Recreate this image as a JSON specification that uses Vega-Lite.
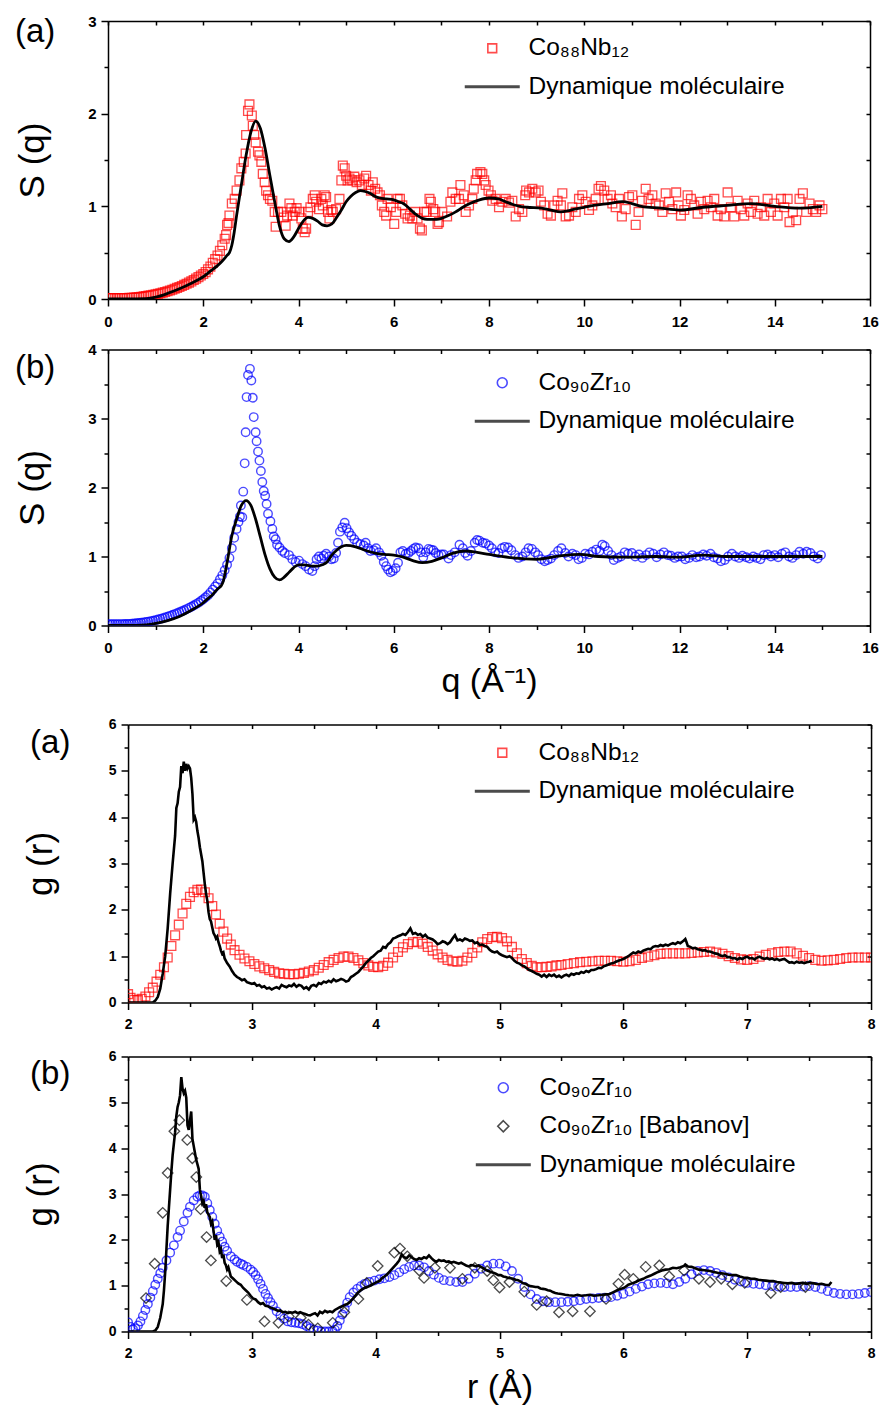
{
  "$schema": "https://vega.github.io/schema/vega-lite/v6.json",
  "background": "white",
  "padding": {"left": 15, "top": 14, "right": -13, "bottom": 0},
  "config": {
    "view": {"stroke": null},
    "font": "Liberation Sans",
    "axis": {
      "labelFont": "Liberation Sans", "labelFontSize": 15, "labelFontWeight": "bold", "labelColor": "black",
      "titleFont": "Liberation Sans", "titleFontSize": 35, "titleFontWeight": "normal", "titleColor": "black",
      "domainColor": "black", "domainWidth": 1.5, "tickColor": "black", "tickWidth": 1.5,
      "grid": false, "labelFlush": false, "labelOverlap": false, "zindex": 1
    },
    "legend": {
      "orient": "none", "labelFont": "Liberation Sans", "labelFontSize": 24.5, "labelColor": "black",
      "symbolSize": 484, "symbolStrokeWidth": 1.6, "labelOffset": 24, "rowPadding": 13.5, "padding": 0, "labelLimit": 0
    },
    "title": {"font": "Liberation Sans", "fontSize": 33, "fontWeight": "normal", "color": "black", "anchor": "start", "frame": "group", "baseline": "top"}
  },
  "datasets": {
    "s1": [
      {"x":0,"y":0.01},{"x":0.05,"y":0.01},{"x":0.1,"y":0.01},{"x":0.15,"y":0.01},{"x":0.2,"y":0.01},{"x":0.25,"y":0.01},{"x":0.3,"y":0.01},{"x":0.35,"y":0.01},{"x":0.4,"y":0.01},{"x":0.45,"y":0.012},
      {"x":0.5,"y":0.014},{"x":0.55,"y":0.016},{"x":0.6,"y":0.018},{"x":0.65,"y":0.02},{"x":0.7,"y":0.024},{"x":0.75,"y":0.028},{"x":0.8,"y":0.032},{"x":0.85,"y":0.036},{"x":0.9,"y":0.04},{"x":0.95,"y":0.045},
      {"x":1.0,"y":0.05},{"x":1.05,"y":0.056},{"x":1.1,"y":0.062},{"x":1.15,"y":0.069},{"x":1.2,"y":0.076},{"x":1.25,"y":0.084},{"x":1.3,"y":0.092},{"x":1.35,"y":0.1},{"x":1.4,"y":0.11},{"x":1.45,"y":0.12},
      {"x":1.5,"y":0.13},{"x":1.55,"y":0.14},{"x":1.6,"y":0.152},{"x":1.65,"y":0.164},{"x":1.7,"y":0.177},{"x":1.75,"y":0.19},{"x":1.8,"y":0.205},{"x":1.85,"y":0.22},{"x":1.9,"y":0.236},{"x":1.95,"y":0.253},
      {"x":2.0,"y":0.27},{"x":2.05,"y":0.29},{"x":2.1,"y":0.32},{"x":2.15,"y":0.35},{"x":2.2,"y":0.39},{"x":2.25,"y":0.43},{"x":2.3,"y":0.47},{"x":2.35,"y":0.52},{"x":2.4,"y":0.58},{"x":2.45,"y":0.65},
      {"x":2.48,"y":0.69},{"x":2.5,"y":0.8},{"x":2.53,"y":0.82},{"x":2.55,"y":0.9},{"x":2.6,"y":1.03},{"x":2.66,"y":1.08},{"x":2.7,"y":1.17},{"x":2.76,"y":1.28},{"x":2.8,"y":1.41},{"x":2.85,"y":1.48},
      {"x":2.89,"y":1.57},{"x":2.9,"y":1.77},{"x":2.94,"y":2.03},{"x":2.97,"y":2.1},{"x":3.02,"y":1.98},{"x":3.04,"y":1.87},{"x":3.07,"y":1.77},{"x":3.1,"y":1.69},{"x":3.15,"y":1.59},{"x":3.18,"y":1.55},
      {"x":3.22,"y":1.48},{"x":3.25,"y":1.35},{"x":3.29,"y":1.26},{"x":3.32,"y":1.17},{"x":3.36,"y":1.12},{"x":3.4,"y":1.08},{"x":3.45,"y":1.06},{"x":3.5,"y":0.94},{"x":3.52,"y":0.78},{"x":3.57,"y":0.94},
      {"x":3.64,"y":0.94},{"x":3.69,"y":0.88},{"x":3.73,"y":0.79},{"x":3.76,"y":0.9},{"x":3.81,"y":1.03},{"x":3.85,"y":0.98},{"x":3.88,"y":0.9},{"x":3.92,"y":0.94},{"x":3.96,"y":0.98},{"x":4.02,"y":0.94},
      {"x":4.06,"y":0.87},{"x":4.09,"y":0.76},{"x":4.13,"y":0.72},{"x":4.16,"y":0.76},{"x":4.2,"y":0.94},{"x":4.25,"y":0.99},{"x":4.3,"y":1.08},{"x":4.34,"y":1.12},{"x":4.37,"y":1.05},{"x":4.43,"y":0.97},
      {"x":4.48,"y":1.08},{"x":4.51,"y":1.01},{"x":4.55,"y":1.12},{"x":4.58,"y":1.1},{"x":4.62,"y":0.94},{"x":4.65,"y":0.87},{"x":4.69,"y":0.96},{"x":4.72,"y":0.94},{"x":4.79,"y":0.97},{"x":4.86,"y":1.08},
      {"x":4.9,"y":1.28},{"x":4.93,"y":1.44},{"x":4.97,"y":1.41},{"x":5.0,"y":1.33},{"x":5.03,"y":1.28},{"x":5.07,"y":1.3},{"x":5.13,"y":1.28},{"x":5.17,"y":1.32},{"x":5.22,"y":1.26},{"x":5.28,"y":1.28},
      {"x":5.33,"y":1.23},{"x":5.38,"y":1.3},{"x":5.42,"y":1.33},{"x":5.47,"y":1.23},{"x":5.52,"y":1.17},{"x":5.56,"y":1.26},{"x":5.61,"y":1.19},{"x":5.66,"y":1.15},{"x":5.71,"y":1.12},{"x":5.75,"y":1.01},
      {"x":5.8,"y":0.94},{"x":5.84,"y":0.9},{"x":5.87,"y":1.08},{"x":5.94,"y":0.99},{"x":6.01,"y":0.81},{"x":6.05,"y":0.94},{"x":6.08,"y":1.08},{"x":6.13,"y":1.08},{"x":6.18,"y":1.01},{"x":6.24,"y":0.92},
      {"x":6.29,"y":0.87},{"x":6.34,"y":0.9},{"x":6.39,"y":0.87},{"x":6.45,"y":0.94},{"x":6.5,"y":0.87},{"x":6.55,"y":0.76},{"x":6.59,"y":0.74},{"x":6.64,"y":0.94},{"x":6.69,"y":0.94},{"x":6.75,"y":1.08},
      {"x":6.78,"y":1.05},{"x":6.83,"y":0.97},{"x":6.87,"y":0.94},{"x":6.92,"y":0.81},{"x":6.95,"y":0.83},{"x":7.02,"y":0.94},{"x":7.12,"y":0.89},{"x":7.19,"y":1.05},{"x":7.23,"y":1.15},{"x":7.3,"y":1.08},
      {"x":7.37,"y":1.08},{"x":7.4,"y":1.23},{"x":7.47,"y":1.12},{"x":7.51,"y":0.94},{"x":7.58,"y":1.01},{"x":7.65,"y":1.08},{"x":7.68,"y":1.19},{"x":7.72,"y":1.28},{"x":7.75,"y":1.35},{"x":7.82,"y":1.37},
      {"x":7.86,"y":1.35},{"x":7.9,"y":1.28},{"x":7.93,"y":1.23},{"x":7.99,"y":1.17},{"x":8.04,"y":1.12},{"x":8.07,"y":1.06},{"x":8.14,"y":1.08},{"x":8.21,"y":0.99},{"x":8.28,"y":1.05},{"x":8.35,"y":1.08},
      {"x":8.42,"y":1.04},{"x":8.49,"y":1.06},{"x":8.56,"y":0.89},{"x":8.63,"y":0.97},{"x":8.7,"y":0.94},{"x":8.76,"y":1.12},{"x":8.78,"y":1.17},{"x":8.84,"y":1.15},{"x":8.91,"y":1.19},{"x":8.98,"y":1.15},
      {"x":9.04,"y":1.17},{"x":9.09,"y":1.05},{"x":9.16,"y":1.01},{"x":9.23,"y":0.92},{"x":9.3,"y":0.9},{"x":9.37,"y":1.01},{"x":9.44,"y":1.06},{"x":9.51,"y":1.01},{"x":9.54,"y":1.14},{"x":9.61,"y":0.89},
      {"x":9.68,"y":0.9},{"x":9.75,"y":0.99},{"x":9.82,"y":0.94},{"x":9.89,"y":1.08},{"x":9.96,"y":1.12},{"x":10.03,"y":1.05},{"x":10.1,"y":0.96},{"x":10.17,"y":1.01},{"x":10.24,"y":1.08},{"x":10.3,"y":1.19},
      {"x":10.35,"y":1.22},{"x":10.42,"y":1.17},{"x":10.49,"y":1.08},{"x":10.56,"y":1.12},{"x":10.59,"y":1.03},{"x":10.66,"y":0.99},{"x":10.73,"y":1.08},{"x":10.79,"y":0.89},{"x":10.87,"y":0.97},{"x":10.94,"y":1.1},
      {"x":11.01,"y":1.12},{"x":11.08,"y":0.8},{"x":11.14,"y":0.94},{"x":11.21,"y":1.06},{"x":11.29,"y":1.19},{"x":11.35,"y":1.08},{"x":11.43,"y":1.12},{"x":11.5,"y":1.03},{"x":11.57,"y":1.01},{"x":11.64,"y":0.94},
      {"x":11.71,"y":1.14},{"x":11.78,"y":1.05},{"x":11.85,"y":0.97},{"x":11.93,"y":1.15},{"x":11.98,"y":1.01},{"x":12.03,"y":0.9},{"x":12.1,"y":0.96},{"x":12.17,"y":1.12},{"x":12.24,"y":1.08},{"x":12.31,"y":1.01},
      {"x":12.38,"y":0.92},{"x":12.45,"y":1.05},{"x":12.52,"y":0.97},{"x":12.59,"y":1.06},{"x":12.66,"y":0.99},{"x":12.73,"y":1.08},{"x":12.8,"y":0.9},{"x":12.87,"y":0.97},{"x":12.94,"y":0.89},{"x":13.01,"y":1.15},
      {"x":13.08,"y":0.99},{"x":13.15,"y":0.89},{"x":13.22,"y":1.06},{"x":13.29,"y":0.97},{"x":13.36,"y":0.9},{"x":13.43,"y":1.03},{"x":13.5,"y":0.94},{"x":13.57,"y":1.06},{"x":13.64,"y":0.92},{"x":13.71,"y":0.99},
      {"x":13.78,"y":0.9},{"x":13.85,"y":1.08},{"x":13.92,"y":0.94},{"x":13.99,"y":1.03},{"x":14.06,"y":0.9},{"x":14.13,"y":1.08},{"x":14.2,"y":0.99},{"x":14.27,"y":1.08},{"x":14.31,"y":0.83},{"x":14.38,"y":0.94},
      {"x":14.45,"y":0.85},{"x":14.52,"y":1.08},{"x":14.59,"y":1.14},{"x":14.66,"y":0.94},{"x":14.73,"y":1.03},{"x":14.8,"y":0.97},{"x":14.87,"y":0.94},{"x":14.94,"y":1.01},{"x":15.0,"y":0.97}
    ],
    "m1": [
      {"x":0,"y":0},{"x":0.4,"y":0},{"x":0.8,"y":0.005},{"x":1.0,"y":0.02},{"x":1.25,"y":0.06},{"x":1.5,"y":0.11},{"x":1.75,"y":0.17},{"x":2.0,"y":0.24},{"x":2.15,"y":0.3},{"x":2.3,"y":0.36},
      {"x":2.4,"y":0.41},{"x":2.5,"y":0.47},{"x":2.55,"y":0.5},{"x":2.6,"y":0.58},{"x":2.65,"y":0.72},{"x":2.7,"y":0.9},{"x":2.8,"y":1.23},{"x":2.9,"y":1.55},{"x":3.0,"y":1.8},{"x":3.1,"y":1.92},
      {"x":3.2,"y":1.84},{"x":3.3,"y":1.62},{"x":3.4,"y":1.33},{"x":3.5,"y":1.05},{"x":3.6,"y":0.79},{"x":3.7,"y":0.65},{"x":3.8,"y":0.62},{"x":3.9,"y":0.67},{"x":4.0,"y":0.76},{"x":4.1,"y":0.84},
      {"x":4.2,"y":0.88},{"x":4.3,"y":0.87},{"x":4.4,"y":0.84},{"x":4.5,"y":0.8},{"x":4.6,"y":0.79},{"x":4.7,"y":0.81},{"x":4.8,"y":0.88},{"x":4.9,"y":0.96},{"x":5.0,"y":1.05},{"x":5.1,"y":1.11},
      {"x":5.2,"y":1.15},{"x":5.3,"y":1.17},{"x":5.4,"y":1.16},{"x":5.5,"y":1.14},{"x":5.6,"y":1.11},{"x":5.7,"y":1.09},{"x":5.85,"y":1.08},{"x":6.0,"y":1.07},{"x":6.1,"y":1.05},{"x":6.2,"y":1.03},
      {"x":6.3,"y":0.99},{"x":6.4,"y":0.94},{"x":6.5,"y":0.9},{"x":6.6,"y":0.87},{"x":6.7,"y":0.86},{"x":6.8,"y":0.86},{"x":6.9,"y":0.86},{"x":7.0,"y":0.87},{"x":7.15,"y":0.9},{"x":7.3,"y":0.94},
      {"x":7.45,"y":0.99},{"x":7.6,"y":1.03},{"x":7.8,"y":1.07},{"x":8.0,"y":1.09},{"x":8.2,"y":1.08},{"x":8.35,"y":1.05},{"x":8.5,"y":1.02},{"x":8.65,"y":1.0},{"x":8.8,"y":0.99},{"x":9.1,"y":0.98},
      {"x":9.3,"y":0.96},{"x":9.5,"y":0.94},{"x":9.65,"y":0.95},{"x":9.8,"y":0.97},{"x":10.0,"y":0.99},{"x":10.2,"y":1.01},{"x":10.5,"y":1.03},{"x":10.8,"y":1.05},{"x":11.0,"y":1.03},{"x":11.2,"y":1.0},
      {"x":11.6,"y":0.98},{"x":12.0,"y":0.96},{"x":12.5,"y":0.99},{"x":13.0,"y":1.01},{"x":13.5,"y":1.03},{"x":14.0,"y":1.0},{"x":14.5,"y":0.98},{"x":15.0,"y":1.0}
    ],
    "s2": [
      {"x":0,"y":0.02},{"x":0.05,"y":0.02},{"x":0.1,"y":0.02},{"x":0.15,"y":0.02},{"x":0.2,"y":0.02},{"x":0.25,"y":0.02},{"x":0.3,"y":0.02},{"x":0.35,"y":0.021},{"x":0.4,"y":0.022},{"x":0.45,"y":0.024},
      {"x":0.5,"y":0.026},{"x":0.55,"y":0.029},{"x":0.6,"y":0.032},{"x":0.65,"y":0.036},{"x":0.7,"y":0.04},{"x":0.75,"y":0.045},{"x":0.8,"y":0.05},{"x":0.85,"y":0.056},{"x":0.9,"y":0.063},{"x":0.95,"y":0.07},
      {"x":1.0,"y":0.078},{"x":1.05,"y":0.087},{"x":1.1,"y":0.096},{"x":1.15,"y":0.106},{"x":1.2,"y":0.117},{"x":1.25,"y":0.128},{"x":1.3,"y":0.14},{"x":1.35,"y":0.152},{"x":1.4,"y":0.165},{"x":1.45,"y":0.178},
      {"x":1.5,"y":0.192},{"x":1.55,"y":0.207},{"x":1.6,"y":0.222},{"x":1.65,"y":0.238},{"x":1.7,"y":0.255},{"x":1.75,"y":0.272},{"x":1.8,"y":0.29},{"x":1.85,"y":0.31},{"x":1.9,"y":0.33},{"x":1.95,"y":0.355},
      {"x":2.0,"y":0.38},{"x":2.05,"y":0.41},{"x":2.1,"y":0.44},{"x":2.15,"y":0.48},{"x":2.2,"y":0.52},{"x":2.25,"y":0.565},{"x":2.3,"y":0.61},{"x":2.35,"y":0.67},{"x":2.4,"y":0.73},{"x":2.45,"y":0.8},
      {"x":2.5,"y":0.88},{"x":2.55,"y":0.98},{"x":2.6,"y":1.12},{"x":2.65,"y":1.27},{"x":2.7,"y":1.4},{"x":2.74,"y":1.5},{"x":2.77,"y":1.58},{"x":2.79,"y":1.74},{"x":2.82,"y":1.57},{"x":2.84,"y":1.94},
      {"x":2.87,"y":2.35},{"x":2.89,"y":2.8},{"x":2.91,"y":3.31},{"x":2.94,"y":3.63},{"x":2.98,"y":3.72},{"x":3.01,"y":3.55},{"x":3.04,"y":3.3},{"x":3.06,"y":3.02},{"x":3.1,"y":2.8},{"x":3.12,"y":2.67},
      {"x":3.15,"y":2.52},{"x":3.18,"y":2.39},{"x":3.21,"y":2.24},{"x":3.24,"y":2.08},{"x":3.27,"y":1.95},{"x":3.3,"y":1.88},{"x":3.33,"y":1.76},{"x":3.36,"y":1.62},{"x":3.41,"y":1.51},{"x":3.45,"y":1.4},
      {"x":3.48,"y":1.29},{"x":3.52,"y":1.25},{"x":3.55,"y":1.17},{"x":3.6,"y":1.13},{"x":3.66,"y":1.08},{"x":3.71,"y":1.05},{"x":3.8,"y":1.02},{"x":3.87,"y":0.96},{"x":3.94,"y":0.92},{"x":4.01,"y":0.94},
      {"x":4.08,"y":0.89},{"x":4.15,"y":0.86},{"x":4.22,"y":0.81},{"x":4.29,"y":0.79},{"x":4.34,"y":0.86},{"x":4.38,"y":0.96},{"x":4.43,"y":1.0},{"x":4.48,"y":0.97},{"x":4.53,"y":1.01},{"x":4.58,"y":1.04},
      {"x":4.64,"y":1.0},{"x":4.69,"y":0.96},{"x":4.74,"y":0.97},{"x":4.79,"y":1.05},{"x":4.83,"y":1.2},{"x":4.87,"y":1.36},{"x":4.92,"y":1.42},{"x":4.97,"y":1.49},{"x":5.01,"y":1.41},{"x":5.06,"y":1.35},
      {"x":5.11,"y":1.3},{"x":5.17,"y":1.25},{"x":5.23,"y":1.2},{"x":5.3,"y":1.18},{"x":5.37,"y":1.16},{"x":5.41,"y":1.2},{"x":5.46,"y":1.12},{"x":5.51,"y":1.08},{"x":5.58,"y":1.09},{"x":5.63,"y":1.12},
      {"x":5.69,"y":1.06},{"x":5.74,"y":1.01},{"x":5.79,"y":0.92},{"x":5.84,"y":0.86},{"x":5.88,"y":0.81},{"x":5.93,"y":0.77},{"x":5.98,"y":0.79},{"x":6.04,"y":0.83},{"x":6.09,"y":0.91},{"x":6.14,"y":1.06},
      {"x":6.19,"y":1.08},{"x":6.25,"y":1.04},{"x":6.31,"y":1.05},{"x":6.36,"y":1.08},{"x":6.41,"y":1.11},{"x":6.46,"y":1.13},{"x":6.52,"y":1.12},{"x":6.57,"y":1.06},{"x":6.62,"y":0.99},{"x":6.67,"y":1.06},
      {"x":6.73,"y":1.11},{"x":6.78,"y":1.1},{"x":6.83,"y":1.09},{"x":6.88,"y":1.05},{"x":6.94,"y":1.02},{"x":7.0,"y":1.03},{"x":7.05,"y":1.03},{"x":7.15,"y":0.97},{"x":7.2,"y":1.02},{"x":7.28,"y":1.06},
      {"x":7.38,"y":1.17},{"x":7.45,"y":1.12},{"x":7.5,"y":1.05},{"x":7.55,"y":1.01},{"x":7.62,"y":1.08},{"x":7.7,"y":1.2},{"x":7.75,"y":1.24},{"x":7.8,"y":1.23},{"x":7.87,"y":1.2},{"x":7.93,"y":1.19},
      {"x":8.0,"y":1.16},{"x":8.06,"y":1.12},{"x":8.13,"y":1.06},{"x":8.2,"y":1.05},{"x":8.27,"y":1.12},{"x":8.33,"y":1.14},{"x":8.4,"y":1.13},{"x":8.47,"y":1.09},{"x":8.55,"y":1.02},{"x":8.62,"y":0.98},
      {"x":8.7,"y":1.0},{"x":8.77,"y":1.06},{"x":8.83,"y":1.12},{"x":8.9,"y":1.11},{"x":8.97,"y":1.06},{"x":9.03,"y":1.02},{"x":9.1,"y":0.96},{"x":9.17,"y":0.93},{"x":9.23,"y":0.95},{"x":9.3,"y":0.97},
      {"x":9.37,"y":1.02},{"x":9.45,"y":1.08},{"x":9.52,"y":1.12},{"x":9.6,"y":1.05},{"x":9.67,"y":1.0},{"x":9.75,"y":1.04},{"x":9.82,"y":1.02},{"x":9.88,"y":0.96},{"x":9.95,"y":0.98},{"x":10.02,"y":1.04},
      {"x":10.1,"y":1.03},{"x":10.17,"y":1.07},{"x":10.25,"y":1.1},{"x":10.32,"y":1.08},{"x":10.38,"y":1.17},{"x":10.43,"y":1.15},{"x":10.5,"y":1.08},{"x":10.57,"y":1.02},{"x":10.62,"y":0.95},{"x":10.7,"y":0.98},
      {"x":10.77,"y":1.0},{"x":10.85,"y":1.06},{"x":10.92,"y":1.04},{"x":11.0,"y":1.05},{"x":11.07,"y":1.0},{"x":11.15,"y":1.03},{"x":11.22,"y":0.98},{"x":11.3,"y":1.02},{"x":11.37,"y":1.06},{"x":11.45,"y":1.04},
      {"x":11.52,"y":0.99},{"x":11.6,"y":1.03},{"x":11.67,"y":1.06},{"x":11.75,"y":1.02},{"x":11.82,"y":1.01},{"x":11.9,"y":0.98},{"x":11.97,"y":1.0},{"x":12.05,"y":1.0},{"x":12.12,"y":0.96},{"x":12.2,"y":0.98},
      {"x":12.27,"y":1.02},{"x":12.35,"y":0.99},{"x":12.42,"y":1.0},{"x":12.5,"y":1.03},{"x":12.57,"y":1.01},{"x":12.65,"y":1.04},{"x":12.72,"y":0.99},{"x":12.8,"y":0.97},{"x":12.87,"y":0.93},{"x":12.95,"y":0.95},
      {"x":13.02,"y":1.0},{"x":13.1,"y":1.04},{"x":13.17,"y":1.0},{"x":13.25,"y":0.98},{"x":13.32,"y":1.01},{"x":13.4,"y":0.99},{"x":13.47,"y":0.97},{"x":13.55,"y":1.0},{"x":13.62,"y":0.98},{"x":13.7,"y":0.96},
      {"x":13.77,"y":1.02},{"x":13.85,"y":1.03},{"x":13.92,"y":1.0},{"x":14.0,"y":1.02},{"x":14.07,"y":0.99},{"x":14.15,"y":1.04},{"x":14.22,"y":1.06},{"x":14.3,"y":1.0},{"x":14.37,"y":0.98},{"x":14.45,"y":1.02},
      {"x":14.52,"y":1.07},{"x":14.6,"y":1.04},{"x":14.67,"y":1.07},{"x":14.75,"y":1.05},{"x":14.82,"y":1.0},{"x":14.9,"y":0.97},{"x":14.97,"y":1.02}
    ],
    "m2": [
      {"x":0,"y":0},{"x":0.4,"y":0},{"x":0.8,"y":0.01},{"x":1.0,"y":0.03},{"x":1.25,"y":0.07},{"x":1.5,"y":0.13},{"x":1.75,"y":0.22},{"x":2.0,"y":0.33},{"x":2.1,"y":0.39},{"x":2.2,"y":0.45},
      {"x":2.3,"y":0.53},{"x":2.38,"y":0.58},{"x":2.42,"y":0.64},{"x":2.5,"y":0.91},{"x":2.6,"y":1.3},{"x":2.7,"y":1.54},{"x":2.8,"y":1.74},{"x":2.9,"y":1.81},{"x":3.0,"y":1.74},{"x":3.1,"y":1.54},
      {"x":3.2,"y":1.28},{"x":3.3,"y":1.02},{"x":3.4,"y":0.82},{"x":3.5,"y":0.7},{"x":3.6,"y":0.66},{"x":3.7,"y":0.7},{"x":3.8,"y":0.77},{"x":3.9,"y":0.84},{"x":4.0,"y":0.88},{"x":4.1,"y":0.88},
      {"x":4.2,"y":0.87},{"x":4.3,"y":0.86},{"x":4.4,"y":0.86},{"x":4.5,"y":0.88},{"x":4.6,"y":0.92},{"x":4.7,"y":1.02},{"x":4.8,"y":1.09},{"x":4.9,"y":1.14},{"x":5.0,"y":1.16},{"x":5.2,"y":1.14},
      {"x":5.4,"y":1.09},{"x":5.6,"y":1.05},{"x":5.8,"y":1.03},{"x":6.0,"y":1.02},{"x":6.2,"y":0.99},{"x":6.4,"y":0.94},{"x":6.6,"y":0.91},{"x":6.8,"y":0.93},{"x":7.0,"y":0.98},{"x":7.25,"y":1.05},
      {"x":7.5,"y":1.08},{"x":7.75,"y":1.06},{"x":8.0,"y":1.03},{"x":8.5,"y":0.98},{"x":9.0,"y":0.96},{"x":9.5,"y":1.01},{"x":9.9,"y":1.03},{"x":10.3,"y":1.0},{"x":10.8,"y":0.99},{"x":11.5,"y":1.0},
      {"x":12.0,"y":0.99},{"x":12.5,"y":1.02},{"x":13.0,"y":1.0},{"x":14.0,"y":1.0},{"x":15.0,"y":1.0}
    ],
    "s3": [
      {"x":2.0,"y":0.18},{"x":2.02,"y":0.1},{"x":2.05,"y":0.06},{"x":2.08,"y":0.05},{"x":2.11,"y":0.08},{"x":2.14,"y":0.13},{"x":2.17,"y":0.22},{"x":2.2,"y":0.32},{"x":2.23,"y":0.45},{"x":2.26,"y":0.6},
      {"x":2.29,"y":0.76},{"x":2.32,"y":0.97},{"x":2.35,"y":1.22},{"x":2.38,"y":1.45},{"x":2.41,"y":1.68},{"x":2.44,"y":1.92},{"x":2.47,"y":2.13},{"x":2.5,"y":2.28},{"x":2.53,"y":2.38},{"x":2.56,"y":2.43},
      {"x":2.59,"y":2.44},{"x":2.62,"y":2.38},{"x":2.65,"y":2.25},{"x":2.68,"y":2.08},{"x":2.71,"y":1.9},{"x":2.74,"y":1.7},{"x":2.77,"y":1.53},{"x":2.8,"y":1.38},{"x":2.83,"y":1.25},{"x":2.86,"y":1.13},
      {"x":2.9,"y":1.03},{"x":2.94,"y":0.95},{"x":2.98,"y":0.89},{"x":3.02,"y":0.83},{"x":3.06,"y":0.78},{"x":3.1,"y":0.74},{"x":3.14,"y":0.7},{"x":3.18,"y":0.66},{"x":3.22,"y":0.63},{"x":3.26,"y":0.62},
      {"x":3.3,"y":0.61},{"x":3.34,"y":0.61},{"x":3.38,"y":0.62},{"x":3.42,"y":0.64},{"x":3.46,"y":0.67},{"x":3.5,"y":0.7},{"x":3.54,"y":0.75},{"x":3.58,"y":0.81},{"x":3.62,"y":0.87},{"x":3.66,"y":0.92},
      {"x":3.7,"y":0.96},{"x":3.74,"y":0.99},{"x":3.78,"y":0.99},{"x":3.82,"y":0.96},{"x":3.86,"y":0.91},{"x":3.9,"y":0.85},{"x":3.94,"y":0.8},{"x":3.98,"y":0.77},{"x":4.02,"y":0.76},{"x":4.06,"y":0.79},
      {"x":4.1,"y":0.86},{"x":4.14,"y":0.97},{"x":4.18,"y":1.09},{"x":4.22,"y":1.19},{"x":4.26,"y":1.26},{"x":4.3,"y":1.3},{"x":4.34,"y":1.31},{"x":4.38,"y":1.27},{"x":4.42,"y":1.2},{"x":4.46,"y":1.12},
      {"x":4.5,"y":1.04},{"x":4.54,"y":0.97},{"x":4.58,"y":0.92},{"x":4.62,"y":0.89},{"x":4.66,"y":0.88},{"x":4.7,"y":0.9},{"x":4.74,"y":0.97},{"x":4.78,"y":1.07},{"x":4.82,"y":1.19},{"x":4.86,"y":1.3},
      {"x":4.9,"y":1.37},{"x":4.94,"y":1.41},{"x":4.98,"y":1.42},{"x":5.02,"y":1.39},{"x":5.06,"y":1.32},{"x":5.1,"y":1.2},{"x":5.14,"y":1.06},{"x":5.18,"y":0.94},{"x":5.22,"y":0.85},{"x":5.26,"y":0.79},
      {"x":5.3,"y":0.76},{"x":5.34,"y":0.76},{"x":5.38,"y":0.77},{"x":5.42,"y":0.78},{"x":5.46,"y":0.8},{"x":5.5,"y":0.81},{"x":5.55,"y":0.83},{"x":5.6,"y":0.85},{"x":5.65,"y":0.87},{"x":5.7,"y":0.88},
      {"x":5.75,"y":0.89},{"x":5.8,"y":0.9},{"x":5.85,"y":0.9},{"x":5.9,"y":0.9},{"x":5.95,"y":0.89},{"x":6.0,"y":0.88},{"x":6.05,"y":0.89},{"x":6.1,"y":0.92},{"x":6.15,"y":0.96},{"x":6.2,"y":0.99},
      {"x":6.25,"y":1.02},{"x":6.3,"y":1.05},{"x":6.35,"y":1.06},{"x":6.4,"y":1.06},{"x":6.45,"y":1.06},{"x":6.5,"y":1.06},{"x":6.55,"y":1.07},{"x":6.6,"y":1.08},{"x":6.65,"y":1.09},{"x":6.7,"y":1.1},
      {"x":6.75,"y":1.08},{"x":6.8,"y":1.05},{"x":6.85,"y":1.0},{"x":6.9,"y":0.96},{"x":6.95,"y":0.93},{"x":7.0,"y":0.92},{"x":7.05,"y":0.94},{"x":7.1,"y":0.99},{"x":7.15,"y":1.03},{"x":7.2,"y":1.06},
      {"x":7.25,"y":1.09},{"x":7.3,"y":1.1},{"x":7.35,"y":1.1},{"x":7.4,"y":1.06},{"x":7.45,"y":1.01},{"x":7.5,"y":0.96},{"x":7.55,"y":0.92},{"x":7.6,"y":0.9},{"x":7.65,"y":0.91},{"x":7.7,"y":0.92},
      {"x":7.75,"y":0.94},{"x":7.8,"y":0.96},{"x":7.85,"y":0.97},{"x":7.9,"y":0.97},{"x":7.95,"y":0.97},{"x":8.0,"y":0.97}
    ],
    "m3": [
      {"x":2.0,"y":0},{"x":2.1,"y":0},{"x":2.2,"y":0},{"x":2.22,"y":0.04},{"x":2.24,"y":0.12},{"x":2.26,"y":0.3},{"x":2.28,"y":0.62},{"x":2.3,"y":1.0},{"x":2.32,"y":1.6},{"x":2.34,"y":2.35},
      {"x":2.36,"y":3.0},{"x":2.38,"y":3.6},{"x":2.39,"y":4.2},{"x":2.4,"y":4.3},{"x":2.41,"y":4.55},{"x":2.42,"y":4.65},{"x":2.43,"y":5.1},{"x":2.44,"y":4.95},{"x":2.45,"y":5.2},{"x":2.46,"y":5.0},
      {"x":2.47,"y":5.15},{"x":2.48,"y":5.05},{"x":2.49,"y":5.1},{"x":2.5,"y":5.05},{"x":2.51,"y":4.85},{"x":2.52,"y":4.5},{"x":2.53,"y":3.95},{"x":2.54,"y":4.0},{"x":2.55,"y":3.9},{"x":2.56,"y":3.7},
      {"x":2.57,"y":3.55},{"x":2.58,"y":3.35},{"x":2.6,"y":3.05},{"x":2.61,"y":2.8},{"x":2.62,"y":2.55},{"x":2.63,"y":2.35},{"x":2.64,"y":2.2},{"x":2.65,"y":1.95},{"x":2.66,"y":1.8},{"x":2.67,"y":1.75},
      {"x":2.68,"y":1.62},{"x":2.69,"y":1.5},{"x":2.7,"y":1.45},{"x":2.71,"y":1.38},{"x":2.72,"y":1.42},{"x":2.73,"y":1.3},{"x":2.74,"y":1.22},{"x":2.75,"y":1.12},{"x":2.76,"y":1.05},{"x":2.77,"y":1.08},
      {"x":2.78,"y":0.95},{"x":2.8,"y":0.85},{"x":2.82,"y":0.78},{"x":2.84,"y":0.68},{"x":2.86,"y":0.6},{"x":2.88,"y":0.55},{"x":2.9,"y":0.52},{"x":2.92,"y":0.48},{"x":2.94,"y":0.5},{"x":2.96,"y":0.44},
      {"x":2.98,"y":0.42},{"x":3.0,"y":0.4},{"x":3.02,"y":0.42},{"x":3.04,"y":0.36},{"x":3.06,"y":0.38},{"x":3.08,"y":0.33},{"x":3.1,"y":0.35},{"x":3.12,"y":0.3},{"x":3.14,"y":0.32},{"x":3.16,"y":0.28},
      {"x":3.18,"y":0.31},{"x":3.2,"y":0.33},{"x":3.22,"y":0.3},{"x":3.24,"y":0.38},{"x":3.26,"y":0.35},{"x":3.28,"y":0.33},{"x":3.3,"y":0.37},{"x":3.32,"y":0.35},{"x":3.34,"y":0.4},{"x":3.36,"y":0.34},
      {"x":3.38,"y":0.38},{"x":3.4,"y":0.36},{"x":3.42,"y":0.3},{"x":3.44,"y":0.33},{"x":3.46,"y":0.28},{"x":3.48,"y":0.36},{"x":3.5,"y":0.38},{"x":3.52,"y":0.35},{"x":3.54,"y":0.42},{"x":3.56,"y":0.4},
      {"x":3.58,"y":0.45},{"x":3.6,"y":0.43},{"x":3.62,"y":0.47},{"x":3.64,"y":0.44},{"x":3.66,"y":0.5},{"x":3.68,"y":0.46},{"x":3.7,"y":0.48},{"x":3.72,"y":0.51},{"x":3.74,"y":0.49},{"x":3.76,"y":0.45},
      {"x":3.78,"y":0.47},{"x":3.8,"y":0.55},{"x":3.82,"y":0.58},{"x":3.84,"y":0.62},{"x":3.86,"y":0.66},{"x":3.88,"y":0.72},{"x":3.9,"y":0.78},{"x":3.92,"y":0.85},{"x":3.94,"y":0.9},{"x":3.96,"y":0.96},
      {"x":3.98,"y":1.0},{"x":4.0,"y":1.05},{"x":4.02,"y":1.1},{"x":4.04,"y":1.12},{"x":4.06,"y":1.2},{"x":4.08,"y":1.18},{"x":4.1,"y":1.26},{"x":4.12,"y":1.3},{"x":4.14,"y":1.38},{"x":4.16,"y":1.4},
      {"x":4.18,"y":1.43},{"x":4.2,"y":1.45},{"x":4.22,"y":1.48},{"x":4.24,"y":1.46},{"x":4.26,"y":1.52},{"x":4.28,"y":1.6},{"x":4.3,"y":1.48},{"x":4.32,"y":1.5},{"x":4.34,"y":1.46},{"x":4.36,"y":1.48},
      {"x":4.38,"y":1.42},{"x":4.4,"y":1.46},{"x":4.42,"y":1.4},{"x":4.44,"y":1.38},{"x":4.46,"y":1.36},{"x":4.48,"y":1.32},{"x":4.5,"y":1.26},{"x":4.52,"y":1.28},{"x":4.54,"y":1.32},{"x":4.56,"y":1.3},
      {"x":4.58,"y":1.26},{"x":4.6,"y":1.3},{"x":4.62,"y":1.38},{"x":4.64,"y":1.45},{"x":4.66,"y":1.34},{"x":4.68,"y":1.36},{"x":4.7,"y":1.33},{"x":4.72,"y":1.38},{"x":4.74,"y":1.36},{"x":4.76,"y":1.33},
      {"x":4.78,"y":1.34},{"x":4.8,"y":1.28},{"x":4.82,"y":1.3},{"x":4.84,"y":1.24},{"x":4.86,"y":1.25},{"x":4.88,"y":1.22},{"x":4.9,"y":1.2},{"x":4.92,"y":1.14},{"x":4.94,"y":1.1},{"x":4.96,"y":1.08},
      {"x":4.98,"y":1.1},{"x":5.0,"y":1.05},{"x":5.02,"y":1.02},{"x":5.04,"y":1.0},{"x":5.06,"y":0.98},{"x":5.08,"y":1.0},{"x":5.1,"y":0.96},{"x":5.12,"y":0.9},{"x":5.14,"y":0.86},{"x":5.16,"y":0.84},
      {"x":5.18,"y":0.8},{"x":5.2,"y":0.78},{"x":5.22,"y":0.74},{"x":5.24,"y":0.7},{"x":5.26,"y":0.68},{"x":5.28,"y":0.65},{"x":5.3,"y":0.62},{"x":5.32,"y":0.6},{"x":5.34,"y":0.56},{"x":5.36,"y":0.6},
      {"x":5.38,"y":0.55},{"x":5.4,"y":0.6},{"x":5.42,"y":0.57},{"x":5.44,"y":0.6},{"x":5.46,"y":0.55},{"x":5.48,"y":0.58},{"x":5.5,"y":0.54},{"x":5.52,"y":0.58},{"x":5.54,"y":0.6},{"x":5.56,"y":0.57},
      {"x":5.58,"y":0.62},{"x":5.6,"y":0.6},{"x":5.62,"y":0.63},{"x":5.64,"y":0.62},{"x":5.66,"y":0.66},{"x":5.68,"y":0.64},{"x":5.7,"y":0.68},{"x":5.72,"y":0.66},{"x":5.74,"y":0.7},{"x":5.76,"y":0.7},
      {"x":5.78,"y":0.72},{"x":5.8,"y":0.75},{"x":5.82,"y":0.74},{"x":5.84,"y":0.78},{"x":5.86,"y":0.8},{"x":5.88,"y":0.82},{"x":5.9,"y":0.84},{"x":5.92,"y":0.85},{"x":5.94,"y":0.88},{"x":5.96,"y":0.9},
      {"x":5.98,"y":0.92},{"x":6.0,"y":0.94},{"x":6.02,"y":0.97},{"x":6.04,"y":1.0},{"x":6.06,"y":1.04},{"x":6.08,"y":1.08},{"x":6.1,"y":1.06},{"x":6.12,"y":1.1},{"x":6.14,"y":1.08},{"x":6.16,"y":1.12},
      {"x":6.18,"y":1.14},{"x":6.2,"y":1.16},{"x":6.22,"y":1.15},{"x":6.24,"y":1.2},{"x":6.26,"y":1.22},{"x":6.28,"y":1.21},{"x":6.3,"y":1.24},{"x":6.32,"y":1.22},{"x":6.34,"y":1.25},{"x":6.36,"y":1.23},
      {"x":6.38,"y":1.26},{"x":6.4,"y":1.28},{"x":6.42,"y":1.26},{"x":6.44,"y":1.3},{"x":6.46,"y":1.28},{"x":6.48,"y":1.32},{"x":6.5,"y":1.37},{"x":6.51,"y":1.3},{"x":6.52,"y":1.22},{"x":6.54,"y":1.2},
      {"x":6.56,"y":1.17},{"x":6.58,"y":1.18},{"x":6.6,"y":1.15},{"x":6.62,"y":1.14},{"x":6.64,"y":1.12},{"x":6.66,"y":1.13},{"x":6.68,"y":1.1},{"x":6.7,"y":1.1},{"x":6.72,"y":1.08},{"x":6.74,"y":1.06},
      {"x":6.76,"y":1.05},{"x":6.78,"y":1.02},{"x":6.8,"y":1.0},{"x":6.82,"y":1.02},{"x":6.84,"y":0.98},{"x":6.86,"y":0.98},{"x":6.88,"y":0.95},{"x":6.9,"y":0.96},{"x":6.92,"y":0.93},{"x":6.94,"y":0.96},
      {"x":6.96,"y":0.94},{"x":6.98,"y":0.97},{"x":7.0,"y":0.99},{"x":7.02,"y":0.95},{"x":7.04,"y":0.96},{"x":7.06,"y":0.93},{"x":7.08,"y":0.97},{"x":7.1,"y":0.99},{"x":7.12,"y":0.96},{"x":7.14,"y":0.94},
      {"x":7.16,"y":0.96},{"x":7.18,"y":0.93},{"x":7.2,"y":0.95},{"x":7.22,"y":0.92},{"x":7.24,"y":0.94},{"x":7.26,"y":0.91},{"x":7.28,"y":0.93},{"x":7.3,"y":0.94},{"x":7.32,"y":0.9},{"x":7.34,"y":0.86},
      {"x":7.36,"y":0.87},{"x":7.38,"y":0.85},{"x":7.4,"y":0.88},{"x":7.42,"y":0.86},{"x":7.44,"y":0.87},{"x":7.46,"y":0.85},{"x":7.48,"y":0.87},{"x":7.5,"y":0.88},{"x":7.52,"y":0.9}
    ],
    "s4": [
      {"x":2.0,"y":0.2},{"x":2.02,"y":0.1},{"x":2.04,"y":0.05},{"x":2.06,"y":0.07},{"x":2.08,"y":0.13},{"x":2.1,"y":0.22},{"x":2.12,"y":0.34},{"x":2.14,"y":0.47},{"x":2.16,"y":0.6},{"x":2.18,"y":0.74},
      {"x":2.2,"y":0.88},{"x":2.22,"y":1.02},{"x":2.24,"y":1.15},{"x":2.26,"y":1.27},{"x":2.28,"y":1.39},{"x":2.31,"y":1.55},{"x":2.34,"y":1.72},{"x":2.37,"y":1.88},{"x":2.4,"y":2.06},{"x":2.42,"y":2.2},
      {"x":2.45,"y":2.4},{"x":2.48,"y":2.59},{"x":2.5,"y":2.72},{"x":2.53,"y":2.86},{"x":2.56,"y":2.94},{"x":2.58,"y":2.97},{"x":2.6,"y":2.97},{"x":2.62,"y":2.94},{"x":2.64,"y":2.8},{"x":2.66,"y":2.65},
      {"x":2.68,"y":2.5},{"x":2.7,"y":2.35},{"x":2.72,"y":2.2},{"x":2.74,"y":2.07},{"x":2.76,"y":1.96},{"x":2.78,"y":1.85},{"x":2.8,"y":1.76},{"x":2.83,"y":1.64},{"x":2.86,"y":1.57},{"x":2.88,"y":1.52},
      {"x":2.91,"y":1.48},{"x":2.93,"y":1.45},{"x":2.96,"y":1.41},{"x":2.99,"y":1.35},{"x":3.01,"y":1.3},{"x":3.03,"y":1.23},{"x":3.05,"y":1.14},{"x":3.07,"y":1.04},{"x":3.09,"y":0.93},{"x":3.11,"y":0.82},
      {"x":3.13,"y":0.73},{"x":3.15,"y":0.64},{"x":3.17,"y":0.56},{"x":3.2,"y":0.44},{"x":3.23,"y":0.35},{"x":3.26,"y":0.28},{"x":3.29,"y":0.22},{"x":3.32,"y":0.2},{"x":3.35,"y":0.19},{"x":3.38,"y":0.18},
      {"x":3.41,"y":0.16},{"x":3.44,"y":0.12},{"x":3.47,"y":0.07},{"x":3.5,"y":0.04},{"x":3.53,"y":0.02},{"x":3.56,"y":0},{"x":3.59,"y":0},{"x":3.62,"y":0},{"x":3.65,"y":0.01},{"x":3.67,"y":0.04},
      {"x":3.69,"y":0.12},{"x":3.71,"y":0.24},{"x":3.73,"y":0.37},{"x":3.75,"y":0.5},{"x":3.77,"y":0.63},{"x":3.79,"y":0.75},{"x":3.82,"y":0.85},{"x":3.85,"y":0.93},{"x":3.88,"y":0.99},{"x":3.91,"y":1.04},
      {"x":3.95,"y":1.08},{"x":3.99,"y":1.11},{"x":4.03,"y":1.14},{"x":4.07,"y":1.16},{"x":4.11,"y":1.19},{"x":4.15,"y":1.23},{"x":4.19,"y":1.29},{"x":4.23,"y":1.36},{"x":4.27,"y":1.41},{"x":4.31,"y":1.44},
      {"x":4.35,"y":1.44},{"x":4.39,"y":1.4},{"x":4.43,"y":1.32},{"x":4.47,"y":1.24},{"x":4.51,"y":1.17},{"x":4.55,"y":1.12},{"x":4.6,"y":1.1},{"x":4.65,"y":1.08},{"x":4.7,"y":1.08},{"x":4.75,"y":1.15},
      {"x":4.8,"y":1.26},{"x":4.85,"y":1.37},{"x":4.9,"y":1.44},{"x":4.95,"y":1.48},{"x":5.0,"y":1.48},{"x":5.05,"y":1.42},{"x":5.1,"y":1.32},{"x":5.15,"y":1.15},{"x":5.2,"y":0.97},{"x":5.25,"y":0.81},
      {"x":5.3,"y":0.71},{"x":5.35,"y":0.66},{"x":5.4,"y":0.64},{"x":5.45,"y":0.64},{"x":5.5,"y":0.64},{"x":5.55,"y":0.65},{"x":5.6,"y":0.66},{"x":5.65,"y":0.68},{"x":5.7,"y":0.71},{"x":5.75,"y":0.72},
      {"x":5.8,"y":0.73},{"x":5.85,"y":0.74},{"x":5.9,"y":0.75},{"x":5.95,"y":0.78},{"x":6.0,"y":0.82},{"x":6.05,"y":0.87},{"x":6.1,"y":0.93},{"x":6.15,"y":0.98},{"x":6.2,"y":1.03},{"x":6.25,"y":1.05},
      {"x":6.3,"y":1.06},{"x":6.35,"y":1.05},{"x":6.4,"y":1.03},{"x":6.45,"y":1.08},{"x":6.5,"y":1.15},{"x":6.55,"y":1.25},{"x":6.6,"y":1.32},{"x":6.65,"y":1.34},{"x":6.7,"y":1.32},{"x":6.75,"y":1.28},
      {"x":6.8,"y":1.23},{"x":6.85,"y":1.18},{"x":6.9,"y":1.13},{"x":6.95,"y":1.09},{"x":7.0,"y":1.06},{"x":7.05,"y":1.04},{"x":7.1,"y":1.03},{"x":7.15,"y":1.01},{"x":7.2,"y":0.99},{"x":7.25,"y":0.98},
      {"x":7.3,"y":0.97},{"x":7.35,"y":0.97},{"x":7.4,"y":0.97},{"x":7.45,"y":0.98},{"x":7.5,"y":0.99},{"x":7.55,"y":0.97},{"x":7.6,"y":0.93},{"x":7.65,"y":0.88},{"x":7.7,"y":0.84},{"x":7.75,"y":0.82},
      {"x":7.8,"y":0.81},{"x":7.85,"y":0.81},{"x":7.9,"y":0.82},{"x":7.95,"y":0.84},{"x":8.0,"y":0.86}
    ],
    "m4": [
      {"x":2.0,"y":0},{"x":2.1,"y":0},{"x":2.2,"y":0},{"x":2.22,"y":0.02},{"x":2.24,"y":0.1},{"x":2.26,"y":0.3},{"x":2.27,"y":0.45},{"x":2.28,"y":0.6},{"x":2.29,"y":0.9},{"x":2.3,"y":1.3},
      {"x":2.31,"y":1.8},{"x":2.32,"y":2.3},{"x":2.33,"y":2.7},{"x":2.34,"y":3.1},{"x":2.35,"y":3.5},{"x":2.36,"y":3.85},{"x":2.37,"y":4.1},{"x":2.38,"y":4.35},{"x":2.39,"y":4.7},{"x":2.4,"y":4.9},
      {"x":2.41,"y":5.0},{"x":2.42,"y":5.15},{"x":2.43,"y":5.55},{"x":2.44,"y":5.3},{"x":2.45,"y":5.2},{"x":2.46,"y":5.25},{"x":2.47,"y":5.1},{"x":2.48,"y":4.5},{"x":2.49,"y":4.4},{"x":2.5,"y":4.6},
      {"x":2.51,"y":4.8},{"x":2.52,"y":4.2},{"x":2.53,"y":4.05},{"x":2.54,"y":3.9},{"x":2.55,"y":3.75},{"x":2.56,"y":3.65},{"x":2.57,"y":3.55},{"x":2.58,"y":3.1},{"x":2.59,"y":2.95},{"x":2.6,"y":2.8},
      {"x":2.61,"y":2.85},{"x":2.62,"y":2.7},{"x":2.63,"y":2.78},{"x":2.64,"y":2.6},{"x":2.65,"y":2.55},{"x":2.66,"y":2.5},{"x":2.67,"y":2.35},{"x":2.68,"y":2.4},{"x":2.69,"y":2.2},{"x":2.7,"y":2.0},
      {"x":2.71,"y":2.1},{"x":2.72,"y":1.9},{"x":2.73,"y":1.95},{"x":2.74,"y":1.75},{"x":2.75,"y":1.8},{"x":2.76,"y":1.6},{"x":2.77,"y":1.68},{"x":2.78,"y":1.5},{"x":2.79,"y":1.45},{"x":2.8,"y":1.35},
      {"x":2.81,"y":1.4},{"x":2.82,"y":1.3},{"x":2.83,"y":1.2},{"x":2.85,"y":1.15},{"x":2.87,"y":1.1},{"x":2.89,"y":1.05},{"x":2.91,"y":1.02},{"x":2.93,"y":0.95},{"x":2.95,"y":0.9},{"x":2.97,"y":0.85},
      {"x":2.99,"y":0.78},{"x":3.01,"y":0.72},{"x":3.03,"y":0.7},{"x":3.05,"y":0.64},{"x":3.07,"y":0.6},{"x":3.09,"y":0.62},{"x":3.11,"y":0.56},{"x":3.13,"y":0.55},{"x":3.15,"y":0.52},{"x":3.17,"y":0.5},
      {"x":3.19,"y":0.48},{"x":3.21,"y":0.45},{"x":3.23,"y":0.46},{"x":3.25,"y":0.42},{"x":3.27,"y":0.43},{"x":3.29,"y":0.4},{"x":3.31,"y":0.42},{"x":3.33,"y":0.41},{"x":3.35,"y":0.43},{"x":3.37,"y":0.4},
      {"x":3.39,"y":0.42},{"x":3.41,"y":0.4},{"x":3.43,"y":0.38},{"x":3.45,"y":0.36},{"x":3.47,"y":0.35},{"x":3.49,"y":0.38},{"x":3.51,"y":0.4},{"x":3.53,"y":0.35},{"x":3.55,"y":0.43},{"x":3.57,"y":0.4},
      {"x":3.59,"y":0.45},{"x":3.61,"y":0.42},{"x":3.63,"y":0.44},{"x":3.65,"y":0.42},{"x":3.67,"y":0.47},{"x":3.69,"y":0.5},{"x":3.71,"y":0.53},{"x":3.73,"y":0.55},{"x":3.75,"y":0.58},{"x":3.77,"y":0.6},
      {"x":3.79,"y":0.64},{"x":3.81,"y":0.7},{"x":3.83,"y":0.76},{"x":3.85,"y":0.83},{"x":3.87,"y":0.88},{"x":3.89,"y":0.92},{"x":3.91,"y":0.95},{"x":3.93,"y":0.97},{"x":3.95,"y":0.99},{"x":3.97,"y":1.02},
      {"x":3.99,"y":1.05},{"x":4.01,"y":1.08},{"x":4.03,"y":1.1},{"x":4.05,"y":1.16},{"x":4.07,"y":1.2},{"x":4.09,"y":1.24},{"x":4.11,"y":1.3},{"x":4.13,"y":1.36},{"x":4.15,"y":1.42},{"x":4.17,"y":1.48},
      {"x":4.19,"y":1.55},{"x":4.21,"y":1.68},{"x":4.23,"y":1.62},{"x":4.25,"y":1.6},{"x":4.27,"y":1.66},{"x":4.29,"y":1.62},{"x":4.31,"y":1.58},{"x":4.33,"y":1.56},{"x":4.35,"y":1.6},{"x":4.37,"y":1.58},
      {"x":4.39,"y":1.62},{"x":4.41,"y":1.6},{"x":4.43,"y":1.66},{"x":4.45,"y":1.6},{"x":4.47,"y":1.55},{"x":4.49,"y":1.52},{"x":4.51,"y":1.56},{"x":4.53,"y":1.54},{"x":4.55,"y":1.55},{"x":4.57,"y":1.52},
      {"x":4.59,"y":1.53},{"x":4.61,"y":1.5},{"x":4.63,"y":1.52},{"x":4.65,"y":1.5},{"x":4.67,"y":1.48},{"x":4.69,"y":1.5},{"x":4.71,"y":1.47},{"x":4.73,"y":1.44},{"x":4.75,"y":1.42},{"x":4.77,"y":1.45},
      {"x":4.79,"y":1.44},{"x":4.81,"y":1.42},{"x":4.83,"y":1.44},{"x":4.85,"y":1.41},{"x":4.87,"y":1.38},{"x":4.89,"y":1.34},{"x":4.91,"y":1.32},{"x":4.93,"y":1.3},{"x":4.95,"y":1.28},{"x":4.97,"y":1.26},
      {"x":4.99,"y":1.23},{"x":5.01,"y":1.23},{"x":5.03,"y":1.2},{"x":5.05,"y":1.19},{"x":5.07,"y":1.17},{"x":5.09,"y":1.16},{"x":5.11,"y":1.15},{"x":5.13,"y":1.13},{"x":5.15,"y":1.12},{"x":5.17,"y":1.09},
      {"x":5.19,"y":1.05},{"x":5.21,"y":1.04},{"x":5.23,"y":1.01},{"x":5.25,"y":0.99},{"x":5.27,"y":0.98},{"x":5.29,"y":0.97},{"x":5.31,"y":0.97},{"x":5.33,"y":0.94},{"x":5.35,"y":0.93},{"x":5.37,"y":0.92},
      {"x":5.39,"y":0.9},{"x":5.41,"y":0.89},{"x":5.43,"y":0.86},{"x":5.45,"y":0.84},{"x":5.47,"y":0.83},{"x":5.5,"y":0.82},{"x":5.53,"y":0.8},{"x":5.56,"y":0.79},{"x":5.6,"y":0.78},{"x":5.63,"y":0.8},
      {"x":5.66,"y":0.78},{"x":5.7,"y":0.79},{"x":5.73,"y":0.8},{"x":5.76,"y":0.78},{"x":5.8,"y":0.79},{"x":5.83,"y":0.8},{"x":5.86,"y":0.81},{"x":5.89,"y":0.82},{"x":5.92,"y":0.86},{"x":5.95,"y":0.9},
      {"x":5.98,"y":0.93},{"x":6.01,"y":0.96},{"x":6.04,"y":1.02},{"x":6.07,"y":1.05},{"x":6.1,"y":1.08},{"x":6.13,"y":1.12},{"x":6.16,"y":1.15},{"x":6.19,"y":1.19},{"x":6.22,"y":1.22},{"x":6.25,"y":1.26},
      {"x":6.28,"y":1.3},{"x":6.31,"y":1.33},{"x":6.34,"y":1.35},{"x":6.37,"y":1.36},{"x":6.4,"y":1.39},{"x":6.43,"y":1.38},{"x":6.46,"y":1.4},{"x":6.49,"y":1.43},{"x":6.5,"y":1.46},{"x":6.52,"y":1.42},
      {"x":6.55,"y":1.41},{"x":6.58,"y":1.38},{"x":6.61,"y":1.35},{"x":6.64,"y":1.34},{"x":6.67,"y":1.33},{"x":6.7,"y":1.32},{"x":6.73,"y":1.3},{"x":6.76,"y":1.28},{"x":6.79,"y":1.27},{"x":6.82,"y":1.26},
      {"x":6.85,"y":1.24},{"x":6.88,"y":1.23},{"x":6.91,"y":1.23},{"x":6.94,"y":1.2},{"x":6.97,"y":1.18},{"x":7.0,"y":1.17},{"x":7.03,"y":1.15},{"x":7.06,"y":1.15},{"x":7.09,"y":1.13},{"x":7.12,"y":1.12},
      {"x":7.15,"y":1.11},{"x":7.18,"y":1.1},{"x":7.21,"y":1.1},{"x":7.24,"y":1.08},{"x":7.27,"y":1.07},{"x":7.3,"y":1.06},{"x":7.33,"y":1.05},{"x":7.36,"y":1.06},{"x":7.39,"y":1.04},{"x":7.42,"y":1.05},
      {"x":7.45,"y":1.06},{"x":7.48,"y":1.04},{"x":7.51,"y":1.06},{"x":7.54,"y":1.05},{"x":7.57,"y":1.03},{"x":7.6,"y":1.04},{"x":7.63,"y":1.02},{"x":7.66,"y":1.01},{"x":7.68,"y":1.08}
    ],
    "d4": [
      {"x":2.145,"y":0.73},{"x":2.215,"y":1.48},{"x":2.28,"y":2.59},{"x":2.32,"y":3.46},{"x":2.374,"y":4.37},{"x":2.414,"y":4.61},{"x":2.478,"y":4.18},{"x":2.519,"y":3.78},{"x":2.551,"y":3.37},{"x":2.586,"y":2.67},
      {"x":2.634,"y":2.06},{"x":2.669,"y":1.55},{"x":2.793,"y":1.1},{"x":2.96,"y":0.69},{"x":3.102,"y":0.22},{"x":3.215,"y":0.19},{"x":3.298,"y":0.33},{"x":3.395,"y":0.3},{"x":3.457,"y":0.15},{"x":3.532,"y":0.07},
      {"x":3.653,"y":0.19},{"x":3.747,"y":0.42},{"x":3.86,"y":0.71},{"x":3.927,"y":1.06},{"x":4.016,"y":1.43},{"x":4.15,"y":1.72},{"x":4.196,"y":1.81},{"x":4.255,"y":1.64},{"x":4.352,"y":1.33},{"x":4.39,"y":1.17},
      {"x":4.478,"y":1.39},{"x":4.6,"y":1.39},{"x":4.7,"y":1.15},{"x":4.8,"y":1.39},{"x":4.9,"y":1.32},{"x":4.95,"y":1.12},{"x":5.0,"y":0.96},{"x":5.08,"y":1.08},{"x":5.2,"y":0.87},{"x":5.3,"y":0.58},
      {"x":5.38,"y":0.66},{"x":5.48,"y":0.42},{"x":5.59,"y":0.44},{"x":5.73,"y":0.44},{"x":5.86,"y":0.71},{"x":5.96,"y":1.04},{"x":6.01,"y":1.24},{"x":6.08,"y":1.15},{"x":6.18,"y":1.41},{"x":6.29,"y":1.44},
      {"x":6.37,"y":1.2},{"x":6.49,"y":1.33},{"x":6.61,"y":1.15},{"x":6.7,"y":1.08},{"x":6.79,"y":1.15},{"x":6.88,"y":1.03},{"x":6.98,"y":1.06},{"x":7.19,"y":0.84},{"x":7.27,"y":0.97},{"x":7.47,"y":0.97}
    ]
  },
  "resolve": {"scale": {"color": "independent", "shape": "independent"}},
  "center": true,
  "spacing": 18.5,
  "vconcat": [
    {
      "spacing": 13.5,
      "resolve": {"scale": {"color": "independent", "shape": "independent"}},
      "vconcat": [
        {
          "width": 762, "height": 278,
          "title": {"text": "(a)", "dx": -93, "offset": -35},
          "resolve": {"axis": {"x": "independent", "y": "independent"}},
          "layer": [
            {
              "data": {"name": "s1"},
              "mark": {"type": "point", "shape": "square", "filled": false, "color": "#ff0000", "size": 78, "strokeWidth": 1.3, "clip": true},
              "encoding": {
                "x": {"field": "x", "type": "quantitative", "scale": {"domain": [0, 16], "nice": false, "zero": false},
                      "axis": {"orient": "bottom", "values": [0,2,4,6,8,10,12,14,16], "tickSize": 7, "labelPadding": 8, "labelFontSize": 15, "title": null}},
                "y": {"field": "y", "type": "quantitative", "scale": {"domain": [0, 3], "nice": false, "zero": false},
                      "axis": {"orient": "left", "values": [0,1,2,3], "tickSize": 7, "labelPadding": 5, "labelFontSize": 15, "title": "S (q)", "titleX": -58, "titleBaseline": "bottom"}}
              }
            },
            {
              "data": {"name": "m1"},
              "mark": {"type": "line", "color": "black", "strokeWidth": 2.8, "interpolate": "monotone", "clip": true},
              "encoding": {
                "x": {"field": "x", "type": "quantitative", "scale": {"domain": [0, 16], "nice": false, "zero": false},
                      "axis": {"orient": "bottom", "values": [1,3,5,7,9,11,13,15], "tickSize": 4, "labels": false, "domain": false, "title": null}},
                "y": {"field": "y", "type": "quantitative", "scale": {"domain": [0, 3], "nice": false, "zero": false},
                      "axis": {"orient": "left", "values": [0.5,1.5,2.5], "tickSize": 4, "labels": false, "domain": false, "title": null}}
              }
            },
            {
              "data": {"values": [{"k": "nb"}, {"k": "md"}]},
              "mark": {"type": "point", "filled": false, "clip": true},
              "encoding": {
                "x": {"datum": -100, "type": "quantitative", "scale": {"domain": [0, 16], "nice": false, "zero": false},
                      "axis": {"orient": "top", "values": [0,1,2,3,4,5,6,7,8,9,10,11,12,13,14,15,16], "tickSize": -4, "labels": false, "title": null}},
                "y": {"datum": -100, "type": "quantitative", "scale": {"domain": [0, 3], "nice": false, "zero": false},
                      "axis": {"orient": "right", "values": [0,0.5,1,1.5,2,2.5,3], "tickSize": -4, "labels": false, "title": null, "minExtent": 25, "maxExtent": 25}},
                "color": {"field": "k", "type": "nominal", "scale": {"domain": ["nb", "md"], "range": ["#ff0000", "#000000"]},
                          "legend": {"title": null, "legendX": 372, "legendY": 15, "labelExpr": "datum.value == 'md' ? 'Dynamique moléculaire' : 'Co₈₈Nb₁₂'"}},
                "shape": {"field": "k", "type": "nominal", "scale": {"domain": ["nb", "md"], "range": ["M-0.4,-0.4H0.4V0.4H-0.4Z", "M-2.5,-0.06H2.5M-2.5,0.06H2.5"]}}
              }
            }
          ]
        },
        {
          "width": 762, "height": 276,
          "title": {"text": "(b)", "dx": -93, "offset": -42},
          "resolve": {"axis": {"x": "independent", "y": "independent"}},
          "layer": [
            {
              "data": {"name": "s2"},
              "mark": {"type": "point", "shape": "circle", "filled": false, "color": "#0000ff", "size": 72, "strokeWidth": 1.4, "clip": true},
              "encoding": {
                "x": {"field": "x", "type": "quantitative", "scale": {"domain": [0, 16], "nice": false, "zero": false},
                      "axis": {"orient": "bottom", "values": [0,2,4,6,8,10,12,14,16], "tickSize": 7, "labelPadding": 8, "labelFontSize": 15, "title": "q (Å⁻¹)", "titleFontSize": 34, "titleY": 39, "titleBaseline": "top"}},
                "y": {"field": "y", "type": "quantitative", "scale": {"domain": [0, 4], "nice": false, "zero": false},
                      "axis": {"orient": "left", "values": [0,1,2,3,4], "tickSize": 7, "labelPadding": 5, "labelFontSize": 15, "title": "S (q)", "titleX": -58, "titleBaseline": "bottom"}}
              }
            },
            {
              "data": {"name": "m2"},
              "mark": {"type": "line", "color": "black", "strokeWidth": 2.8, "interpolate": "monotone", "clip": true},
              "encoding": {
                "x": {"field": "x", "type": "quantitative", "scale": {"domain": [0, 16], "nice": false, "zero": false},
                      "axis": {"orient": "bottom", "values": [1,3,5,7,9,11,13,15], "tickSize": 4, "labels": false, "domain": false, "title": null}},
                "y": {"field": "y", "type": "quantitative", "scale": {"domain": [0, 4], "nice": false, "zero": false},
                      "axis": {"orient": "left", "values": [0.5,1.5,2.5,3.5], "tickSize": 4, "labels": false, "domain": false, "title": null}}
              }
            },
            {
              "data": {"values": [{"k": "zr"}, {"k": "md"}]},
              "mark": {"type": "point", "filled": false, "clip": true},
              "encoding": {
                "x": {"datum": -100, "type": "quantitative", "scale": {"domain": [0, 16], "nice": false, "zero": false},
                      "axis": {"orient": "top", "values": [0,1,2,3,4,5,6,7,8,9,10,11,12,13,14,15,16], "tickSize": -4, "labels": false, "title": null}},
                "y": {"datum": -100, "type": "quantitative", "scale": {"domain": [0, 4], "nice": false, "zero": false},
                      "axis": {"orient": "right", "values": [0,0.5,1,1.5,2,2.5,3,3.5,4], "tickSize": -4, "labels": false, "title": null}},
                "color": {"field": "k", "type": "nominal", "scale": {"domain": ["zr", "md"], "range": ["#0000ff", "#000000"]},
                          "legend": {"title": null, "legendX": 382, "legendY": 21, "labelExpr": "datum.value == 'md' ? 'Dynamique moléculaire' : 'Co₉₀Zr₁₀'"}},
                "shape": {"field": "k", "type": "nominal", "scale": {"domain": ["zr", "md"], "range": ["M-0.45,0A0.45,0.45,0,1,0,0.45,0A0.45,0.45,0,1,0,-0.45,0Z", "M-2.5,-0.06H2.5M-2.5,0.06H2.5"]}}
              }
            }
          ]
        }
      ]
    },
    {
      "spacing": 18,
      "resolve": {"scale": {"color": "independent", "shape": "independent"}},
      "vconcat": [
        {
          "width": 743, "height": 278,
          "title": {"text": "(a)", "dx": -98, "offset": -42},
          "resolve": {"axis": {"x": "independent", "y": "independent"}},
          "layer": [
            {
              "data": {"name": "s3"},
              "mark": {"type": "point", "shape": "square", "filled": false, "color": "#ff0000", "size": 78, "strokeWidth": 1.3, "clip": true},
              "encoding": {
                "x": {"field": "x", "type": "quantitative", "scale": {"domain": [2, 8], "nice": false, "zero": false},
                      "axis": {"orient": "bottom", "values": [2,3,4,5,6,7,8], "tickSize": 7, "labelPadding": 8, "labelFontSize": 14, "title": null}},
                "y": {"field": "y", "type": "quantitative", "scale": {"domain": [0, 6], "nice": false, "zero": false},
                      "axis": {"orient": "left", "values": [0,1,2,3,4,5,6], "tickSize": 7, "labelPadding": 5, "labelFontSize": 14, "title": "g (r)", "titleX": -70, "titleBaseline": "bottom"}}
              }
            },
            {
              "data": {"name": "m3"},
              "mark": {"type": "line", "color": "black", "strokeWidth": 2.6, "clip": true},
              "encoding": {
                "x": {"field": "x", "type": "quantitative", "scale": {"domain": [2, 8], "nice": false, "zero": false},
                      "axis": {"orient": "bottom", "values": [2.5,3.5,4.5,5.5,6.5,7.5], "tickSize": 4, "labels": false, "domain": false, "title": null}},
                "y": {"field": "y", "type": "quantitative", "scale": {"domain": [0, 6], "nice": false, "zero": false},
                      "axis": {"orient": "left", "values": [0.5,1.5,2.5,3.5,4.5,5.5], "tickSize": 4, "labels": false, "domain": false, "title": null}}
              }
            },
            {
              "data": {"values": [{"k": "nb"}, {"k": "md"}]},
              "mark": {"type": "point", "filled": false, "clip": true},
              "encoding": {
                "x": {"datum": -100, "type": "quantitative", "scale": {"domain": [2, 8], "nice": false, "zero": false},
                      "axis": {"orient": "top", "values": [2,2.5,3,3.5,4,4.5,5,5.5,6,6.5,7,7.5,8], "tickSize": -4, "labels": false, "title": null}},
                "y": {"datum": -100, "type": "quantitative", "scale": {"domain": [0, 6], "nice": false, "zero": false},
                      "axis": {"orient": "right", "values": [0,0.5,1,1.5,2,2.5,3,3.5,4,4.5,5,5.5,6], "tickSize": -4, "labels": false, "title": null}},
                "color": {"field": "k", "type": "nominal", "scale": {"domain": ["nb", "md"], "range": ["#ff0000", "#000000"]},
                          "legend": {"title": null, "legendX": 362, "legendY": 16, "labelExpr": "datum.value == 'md' ? 'Dynamique moléculaire' : 'Co₈₈Nb₁₂'"}},
                "shape": {"field": "k", "type": "nominal", "scale": {"domain": ["nb", "md"], "range": ["M-0.4,-0.4H0.4V0.4H-0.4Z", "M-2.5,-0.06H2.5M-2.5,0.06H2.5"]}}
              }
            }
          ]
        },
        {
          "width": 743, "height": 275,
          "title": {"text": "(b)", "dx": -98, "offset": -41},
          "resolve": {"axis": {"x": "independent", "y": "independent"}},
          "layer": [
            {
              "data": {"name": "s4"},
              "mark": {"type": "point", "shape": "circle", "filled": false, "color": "#0000ff", "size": 72, "strokeWidth": 1.4, "clip": true},
              "encoding": {
                "x": {"field": "x", "type": "quantitative", "scale": {"domain": [2, 8], "nice": false, "zero": false},
                      "axis": {"orient": "bottom", "values": [2,3,4,5,6,7,8], "tickSize": 7, "labelPadding": 8, "labelFontSize": 14, "title": "r (Å)", "titleFontSize": 34, "titleY": 39, "titleBaseline": "top"}},
                "y": {"field": "y", "type": "quantitative", "scale": {"domain": [0, 6], "nice": false, "zero": false},
                      "axis": {"orient": "left", "values": [0,1,2,3,4,5,6], "tickSize": 7, "labelPadding": 5, "labelFontSize": 14, "title": "g (r)", "titleX": -70, "titleBaseline": "bottom"}}
              }
            },
            {
              "data": {"name": "d4"},
              "mark": {"type": "point", "shape": "diamond", "filled": false, "color": "black", "size": 110, "strokeWidth": 1.3, "clip": true},
              "encoding": {
                "x": {"field": "x", "type": "quantitative", "scale": {"domain": [2, 8], "nice": false, "zero": false}, "axis": null},
                "y": {"field": "y", "type": "quantitative", "scale": {"domain": [0, 6], "nice": false, "zero": false}, "axis": null}
              }
            },
            {
              "data": {"name": "m4"},
              "mark": {"type": "line", "color": "black", "strokeWidth": 2.6, "clip": true},
              "encoding": {
                "x": {"field": "x", "type": "quantitative", "scale": {"domain": [2, 8], "nice": false, "zero": false},
                      "axis": {"orient": "bottom", "values": [2.5,3.5,4.5,5.5,6.5,7.5], "tickSize": 4, "labels": false, "domain": false, "title": null}},
                "y": {"field": "y", "type": "quantitative", "scale": {"domain": [0, 6], "nice": false, "zero": false},
                      "axis": {"orient": "left", "values": [0.5,1.5,2.5,3.5,4.5,5.5], "tickSize": 4, "labels": false, "domain": false, "title": null}}
              }
            },
            {
              "data": {"values": [{"k": "zr"}, {"k": "bab"}, {"k": "md"}]},
              "mark": {"type": "point", "filled": false, "clip": true},
              "encoding": {
                "x": {"datum": -100, "type": "quantitative", "scale": {"domain": [2, 8], "nice": false, "zero": false},
                      "axis": {"orient": "top", "values": [2,2.5,3,3.5,4,4.5,5,5.5,6,6.5,7,7.5,8], "tickSize": -4, "labels": false, "title": null}},
                "y": {"datum": -100, "type": "quantitative", "scale": {"domain": [0, 6], "nice": false, "zero": false},
                      "axis": {"orient": "right", "values": [0,0.5,1,1.5,2,2.5,3,3.5,4,4.5,5,5.5,6], "tickSize": -4, "labels": false, "title": null}},
                "color": {"field": "k", "type": "nominal", "scale": {"domain": ["zr", "bab", "md"], "range": ["#0000ff", "#000000", "#000000"]},
                          "legend": {"title": null, "legendX": 363, "legendY": 19, "labelExpr": "datum.value == 'md' ? 'Dynamique moléculaire' : datum.value == 'bab' ? 'Co₉₀Zr₁₀ [Babanov]' : 'Co₉₀Zr₁₀'"}},
                "shape": {"field": "k", "type": "nominal", "scale": {"domain": ["zr", "bab", "md"], "range": ["M-0.45,0A0.45,0.45,0,1,0,0.45,0A0.45,0.45,0,1,0,-0.45,0Z", "M0,-0.5L0.5,0L0,0.5L-0.5,0Z", "M-2.5,-0.06H2.5M-2.5,0.06H2.5"]}}
              }
            }
          ]
        }
      ]
    }
  ]
}
